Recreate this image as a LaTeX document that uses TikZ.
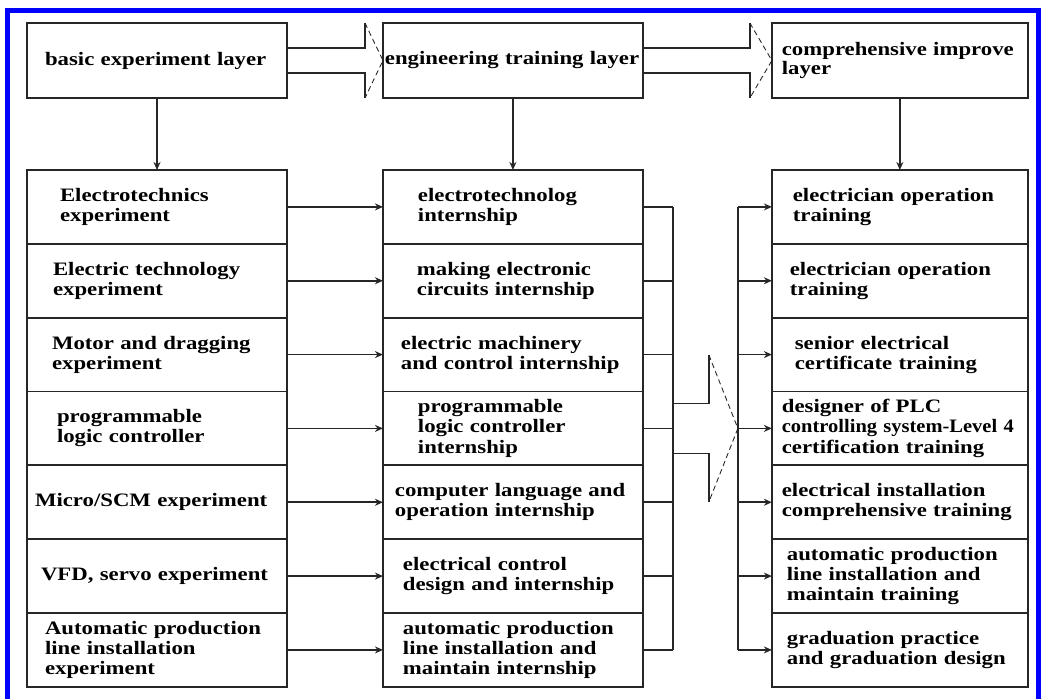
\documentclass[tikz,border=0pt]{standalone}
\usepackage{fontspec}
\setmainfont{Liberation Serif}[FakeStretch=1.2]
\usetikzlibrary{calc}
\usetikzlibrary{positioning}
\usetikzlibrary{arrows.meta}
\lineskiplimit=-4pt

\begin{document}
\begin{tikzpicture}[x=0.02cm, y=-0.02cm,
    font=\fontsize{10.8pt}{11.4pt}\selectfont\bfseries,
    >={Stealth[length=1.6mm, width=1.4mm]},
    box/.style={draw=black!85, line width=1pt, outer sep=0pt, align=left, inner ysep=2pt, minimum height=1.477cm},
    cell/.code={\pgfmathsetlengthmacro\celltw{5.2cm-2*#1}\pgfkeysalso{box, inner xsep=#1, text width/.expanded=\celltw}},
    cellR/.code={\pgfmathsetlengthmacro\celltw{5.12cm-2*#1}\pgfkeysalso{box, inner xsep=#1, text width/.expanded=\celltw}},
    link/.style={draw=black!85, line width=1pt},
    fat/.style={draw=black!85, line width=0.5pt, densely dashed}]

    \useasboundingbox (0,0) rectangle (1042,698);
    \fill[white] (0,0) rectangle (1042,698);
    \draw[blue, line width=0.1cm] (7.5,720) -- (7.5,10.5) -- (1038,10.5) -- (1038,720);

    % layers
    \node[cell=0.36cm, minimum height=1.5cm] (t1) at (157,60.5) {basic experiment layer};
    \node[cell=0.04cm, minimum height=1.5cm, right=1.92cm of t1] (t2) {engineering training layer};
    \node[cellR=0.2cm, minimum height=1.5cm, right=2.58cm of t2] (t3) {comprehensive improve\\[-0.03cm]layer};

    % basic experiments
    \node[cell=0.66cm, below=1.44cm of t1] (l1) {Electrotechnics\\experiment};
    \node[cell=0.52cm, below=0cm of l1] (l2) {Electric technology\\experiment};
    \node[cell=0.5cm, below=0cm of l2] (l3) {Motor and dragging\\experiment};
    \node[cell=0.6cm, below=0cm of l3] (l4) {programmable\\logic controller};
    \node[cell=0.16cm, below=0cm of l4] (l5) {Micro/SCM experiment};
    \node[cell=0.28cm, below=0cm of l5] (l6) {VFD, servo experiment};
    \node[cell=0.36cm, below=0cm of l6] (l7) {Automatic production\\line installation\\experiment};

    % internships
    \node[cell=0.7cm, right=1.92cm of l1] (m1) {electrotechnolog\\internship};
    \node[cell=0.68cm, right=1.92cm of l2] (m2) {making electronic\\circuits internship};
    \node[cell=0.36cm, right=1.92cm of l3] (m3) {electric machinery\\and control internship};
    \node[cell=0.7cm, right=1.92cm of l4] (m4) {programmable\\logic controller\\internship};
    \node[cell=0.24cm, right=1.92cm of l5] (m5) {computer language and\\operation internship};
    \node[cell=0.4cm, right=1.92cm of l6] (m6) {electrical control\\design and internship};
    \node[cell=0.4cm, right=1.92cm of l7] (m7) {automatic production\\line installation and\\maintain internship};

    % trainings
    \node[cellR=0.42cm, right=2.58cm of m1] (r1) {electrician operation\\training};
    \node[cellR=0.36cm, right=2.58cm of m2] (r2) {electrician operation\\training};
    \node[cellR=0.46cm, right=2.58cm of m3] (r3) {senior electrical\\certificate training};
    \node[cellR=0.2cm, right=2.58cm of m4] (r4) {designer of PLC\\{\addfontfeature{FakeStretch=1.08}controlling system-Level 4}\\certification training};
    \node[cellR=0.2cm, right=2.58cm of m5] (r5) {electrical installation\\comprehensive training};
    \node[cellR=0.3cm, right=2.58cm of m6] (r6) {automatic production\\line installation and\\maintain training};
    \node[cellR=0.3cm, right=2.58cm of m7] (r7) {graduation practice\\and graduation design};

    \coordinate (jl) at ($(m1.east)+(30,0)$);
    \coordinate (jr) at ($(r1.west)+(-34,0)$);

    % layer to layer
    \coordinate (a1) at ($(t2.west)+(-18,0)$);
    \draw[link] ($(t1.east)+(0,-12.5)$) -- ($(a1)+(0,-12.5)$) -- (a1 |- t2.north);
    \draw[fat] (a1 |- t2.north) -- (t2.west) -- (a1 |- t2.south);
    \draw[link] (a1 |- t2.south) -- ($(a1)+(0,12.5)$) -- ($(t1.east)+(0,12.5)$);
    \coordinate (a2) at ($(t3.west)+(-22,0)$);
    \draw[link] ($(t2.east)+(0,-12.5)$) -- ($(a2)+(0,-12.5)$) -- (a2 |- t3.north);
    \draw[fat] (a2 |- t3.north) -- (t3.west) -- (a2 |- t3.south);
    \draw[link] (a2 |- t3.south) -- ($(a2)+(0,12.5)$) -- ($(t2.east)+(0,12.5)$);

    % layer to column
    \draw[link, ->] (t1) -- (l1);
    \draw[link, ->] (t2) -- (m1);
    \draw[link, ->] (t3) -- (r1);

    % experiments to internships
    \draw[link, ->] (l1) -- (m1);
    \draw[link, ->] (l2) -- (m2);
    \draw[link, ->] (l3) -- (m3);
    \draw[link, ->] (l4) -- (m4);
    \draw[link, ->] (l5) -- (m5);
    \draw[link, ->] (l6) -- (m6);
    \draw[link, ->] (l7) -- (m7);

    % internships gathered
    \draw[link] (m1.east) -- (m1.east -| jl);
    \draw[link] (m2.east) -- (m2.east -| jl);
    \draw[link] (m3.east) -- (m3.east -| jl);
    \draw[link] (m4.east) -- (m4.east -| jl);
    \draw[link] (m5.east) -- (m5.east -| jl);
    \draw[link] (m6.east) -- (m6.east -| jl);
    \draw[link] (m7.east) -- (m7.east -| jl);
    \draw[link] (m1.east -| jl) -- (m7.east -| jl);

    % big arrow
    \coordinate (a3) at ($(m4.east -| jr)+(-29,0)$);
    \draw[link] ($(m4.east -| jl)+(0,25)$) -- ($(m4.east -| jl)+(0,-25)$) -- ($(a3)+(0,-25)$) -- ($(a3)+(0,-73.5)$);
    \draw[fat] ($(a3)+(0,-73.5)$) -- (m4.east -| jr) -- ($(a3)+(0,73.5)$);
    \draw[link] ($(a3)+(0,73.5)$) -- ($(a3)+(0,25)$) -- ($(m4.east -| jl)+(0,25)$);

    % trainings spread
    \draw[link] (r1.west -| jr) -- (r7.west -| jr);
    \draw[link, ->] (r1.west -| jr) -- (r1);
    \draw[link, ->] (r2.west -| jr) -- (r2);
    \draw[link, ->] (r3.west -| jr) -- (r3);
    \draw[link, ->] (r4.west -| jr) -- (r4);
    \draw[link, ->] (r5.west -| jr) -- (r5);
    \draw[link, ->] (r6.west -| jr) -- (r6);
    \draw[link, ->] (r7.west -| jr) -- (r7);

\end{tikzpicture}
\end{document}
